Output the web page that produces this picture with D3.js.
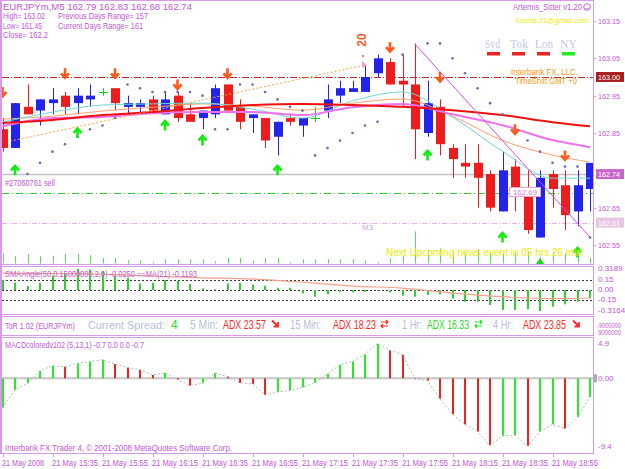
<!DOCTYPE html>
<html>
<head>
<meta charset="utf-8">
<script src="https://cdn.jsdelivr.net/npm/d3@7"></script>
<style>
body { margin: 0; background: #fff; overflow: hidden; }
svg { display: block; font-family: "Liberation Sans", Arial, sans-serif; }
</style>
</head>
<body>
<svg width="625" height="469"></svg>
<script>
const svg = d3.select('svg');

// ---- data (EURJPYm, M5, 21 May 2008 15:15 .. 19:10)
const tickBars = [0, 4, 8, 12, 16, 20, 24, 28, 32, 36, 40, 44];
const tickLabels = ['21 May 2008', '21 May 15:35', '21 May 15:55', '21 May 16:15', '21 May 16:35', '21 May 16:55',
  '21 May 17:15', '21 May 17:35', '21 May 17:55', '21 May 18:15', '21 May 18:35', '21 May 18:55'];

const open  = [162.86, 162.81, 162.92, 162.91, 162.93, 162.95, 162.93, 162.94, 162.96, 162.97, 162.92, 162.92,
  162.94, 162.90, 162.95, 162.90, 162.89, 162.90, 162.98, 162.92, 162.89, 162.89, 162.84, 162.89,
  162.87, 162.89, 162.91, 162.95, 162.96, 162.96, 163.01, 163.04, 162.99, 162.98, 162.85, 162.92,
  162.81, 162.77, 162.77, 162.74, 162.64, 162.76, 162.69, 162.57, 162.74, 162.71, 162.64, 162.70];
const high  = [162.89, 162.93, 162.98, 162.94, 162.97, 162.96, 162.97, 162.98, 162.97, 162.97, 162.95, 162.94,
  162.95, 162.96, 162.96, 162.93, 162.91, 162.98, 162.98, 162.94, 162.90, 162.89, 162.88, 162.90,
  162.89, 162.92, 162.98, 162.99, 162.99, 163.03, 163.06, 163.05, 163.06, 163.09, 162.99, 162.94,
  162.82, 162.82, 162.82, 162.75, 162.80, 162.78, 162.75, 162.75, 162.75, 162.75, 162.75, 162.77];
const low   = [162.80, 162.81, 162.90, 162.87, 162.90, 162.90, 162.90, 162.92, 162.95, 162.91, 162.90, 162.90,
  162.90, 162.90, 162.88, 162.88, 162.86, 162.89, 162.91, 162.86, 162.85, 162.81, 162.79, 162.87,
  162.84, 162.88, 162.89, 162.93, 162.96, 162.96, 163.00, 162.98, 162.92, 162.78, 162.84, 162.79,
  162.73, 162.73, 162.65, 162.64, 162.64, 162.64, 162.58, 162.57, 162.65, 162.59, 162.60, 162.64];
const close = [162.81, 162.93, 162.90, 162.94, 162.94, 162.92, 162.95, 162.95, 162.96, 162.93, 162.93, 162.93,
  162.91, 162.94, 162.89, 162.88, 162.91, 162.97, 162.91, 162.88, 162.90, 162.83, 162.88, 162.88,
  162.89, 162.89, 162.94, 162.97, 162.97, 163.00, 163.05, 162.98, 162.98, 162.86, 162.93, 162.82,
  162.78, 162.76, 162.73, 162.65, 162.75, 162.70, 162.59, 162.73, 162.70, 162.63, 162.71, 162.77];
const volume = [60, 46, 56, 44, 46, 56, 56, 50, 34, 34, 20, 20, 10, 26, 26, 26, 26, 14, 34, 34, 16, 34, 34, 10,
  26, 26, 26, 26, 26, 20, 10, 30, 46, 192, 80, 90, 70, 60, 86, 70, 60, 66, 70, 40, 66, 60, 70, 36];
const sar = [null, null, 162.74, 162.77, 162.80, 162.82, 162.84, 162.86, 162.87, 162.89, 162.98, 162.97,
  162.96, 162.96, 162.96, 162.96, 162.95, 162.86, 162.86, 162.98, 162.98, 162.96, 162.94, 162.92,
  162.91, 162.79, 162.81, 162.83, 162.85, 162.87, 162.88, null, 163.06, null, 163.09, 163.09,
  163.05, 163.01, 162.97, 162.93, 162.90, 162.86, 162.83, 162.80, 162.77, 162.76, 162.76, 162.57];
const downArrows = [[0, 162.96], [5, 163.01], [9, 163.01], [14, 162.98], [18, 163.01], [31, 163.08], [35, 163.00], [41, 162.86], [45, 162.79]];
const upArrows = [[1, 162.75], [6, 162.85], [13, 162.87], [16, 162.83], [22, 162.75], [34, 162.79], [40, 162.57], [46, 162.53]];

const maBars    = [0, 4, 8, 12, 16, 20, 24, 28, 32, 36, 40, 44, 47];
const maRed     = [162.877, 162.885, 162.898, 162.906, 162.917, 162.925, 162.928, 162.925, 162.920, 162.911, 162.898, 162.879, 162.868];
const maMagenta = [162.868, 162.890, 162.893, 162.903, 162.906, 162.906, 162.898, 162.919, 162.928, 162.900, 162.871, 162.831, 162.812];
const maSalmon  = [162.887, 162.895, 162.909, 162.919, 162.928, 162.922, 162.911, 162.930, 162.941, 162.895, 162.830, 162.791, 162.772];
const maCyan    = [162.879, 162.906, 162.925, 162.928, 162.930, 162.914, 162.890, 162.936, 162.960, 162.893, 162.801, 162.729, 162.729];
const trendUp   = [[0.6, 162.828], [29, 163.032]];
const trendDown = [[33, 163.088], [47, 162.571]];

const smaAngle = [0.15, 0.115, 0.06, 0.11, 0.22, 0.25, 0.3189, 0.31, 0.285, 0.22, 0.185, 0.10, 0.11, 0.15, 0.14, 0.09,
  0.025, 0.01, 0.10, 0.11, 0.085, 0.065, 0.035, 0.035, -0.05, -0.10, -0.065, -0.025, -0.035, -0.025, -0.015, -0.035,
  -0.085, -0.10, -0.075, -0.065, -0.125, -0.175, -0.175, -0.225, -0.30, -0.30, -0.29, -0.3164, -0.25, -0.215, -0.175, -0.125];
const smaMa = [0.255, 0.25, 0.24, 0.21, 0.186, 0.167, 0.12, 0.06, 0.03, -0.045, -0.10, -0.13, -0.12];

const macd = [-4.1, -1.6, -0.7, 1.05, 1.74, 1.6, 2.1, 2.3, 2.57, 1.97, 1.5, 1.2, 0.46, 0.73, -0.18, -1.0,
  -0.7, 0.73, 0.23, -0.64, -0.78, -2.3, -1.9, -1.7, -1.24, -0.64, 0.6, 1.88, 2.34, 3.35, 4.8, 3.9,
  3.26, -0.1, -0.32, -2.84, -5.0, -6.4, -7.4, -9.3, -8.0, -7.9, -9.4, -7.4, -6.4, -7.0, -5.4, -2.6];

const priceTicks = [163.15, 163.05, 162.95, 162.85, 162.65, 162.55];
const smaTicks = [0.3189, 0.15, 0.00, -0.15, -0.3164];
const macdTicks = [4.9, 0.00, -9.4];

// ---- colours
const violet = '#c258d6', frame = '#d79ae6';
const bull = '#2323ee', bear = '#ee1c1c', doji = '#11cc11';

// ---- scales
const x = d3.scaleLinear().domain([0, 47]).range([2.5, 590]);
const y = d3.scaleLinear().domain([162.55, 163.15]).range([245, 21]);
const yVol = d3.scaleLinear().domain([0, 192]).range([263.5, 231.5]);
const ySma = d3.scaleLinear().domain([-0.3164, 0.3189]).range([311, 269]);
const yMacd = d3.scaleLinear().domain([-9.4, 4.9]).range([446, 343]);
const px = i => Math.round(x(i)) + 0.5;

function txt(g, tx, ty, s, o = {}) {
  const t = g.append('text').attr('x', tx).attr('y', ty).text(s)
    .attr('font-size', o.size || 9).attr('fill', o.fill || violet);
  if (o.len) t.attr('textLength', o.len).attr('lengthAdjust', 'spacingAndGlyphs');
  if (o.anchor) t.attr('text-anchor', o.anchor);
  if (o.family) t.attr('font-family', o.family);
  if (o.weight) t.attr('font-weight', o.weight);
  return t;
}

// panel frames
const panels = [[0, 264], [266, 314], [316, 335], [337, 453]];
panels.forEach(([t, b]) => {
  svg.append('rect').attr('x', 1.5).attr('y', t + 0.5).attr('width', 592).attr('height', b - t)
    .attr('fill', '#fff').attr('stroke', frame);
});
svg.append('line').attr('x1', 1).attr('x2', 1).attr('y1', 0).attr('y2', 454).attr('stroke', frame).attr('stroke-width', 2);

const defs = svg.append('defs');
defs.append('clipPath').attr('id', 'cm').append('rect').attr('x', 2).attr('y', 1).attr('width', 591).attr('height', 263);
const main = svg.append('g').attr('clip-path', 'url(#cm)');

// horizontal levels
function hline(p, col, dash, w) {
  main.append('line').attr('x1', 2).attr('x2', 593).attr('y1', Math.round(y(p)) + 0.5).attr('y2', Math.round(y(p)) + 0.5)
    .attr('stroke', col).attr('stroke-width', w || 1).attr('stroke-dasharray', dash || null);
}
hline(162.74, '#c4c4c4', null, 1.5);
hline(163.00, '#c52a2a', '7,2,1,2');
hline(162.69, '#33cc33', '7,3,1,3');
hline(162.61, '#eab0e4', '5,2,1,2');

// volumes
volume.forEach((v, i) => {
  main.append('line').attr('x1', px(i)).attr('x2', px(i)).attr('y1', yVol(0)).attr('y2', yVol(v))
    .attr('stroke', '#3fd83f').attr('opacity', 0.85);
});

// candles
open.forEach((o, i) => {
  const c = close[i];
  const col = c > o ? bull : c < o ? bear : doji;
  main.append('line').attr('x1', px(i)).attr('x2', px(i)).attr('y1', y(high[i])).attr('y2', y(low[i])).attr('stroke', col);
  if (c === o) {
    main.append('line').attr('x1', px(i) - 4.5).attr('x2', px(i) + 4.5).attr('y1', Math.round(y(o)) + 0.5).attr('y2', Math.round(y(o)) + 0.5).attr('stroke', col);
  } else {
    const top = y(Math.max(o, c)), bot = y(Math.min(o, c));
    main.append('rect').attr('x', Math.round(x(i)) - 4).attr('width', 9).attr('y', top).attr('height', Math.max(1, bot - top)).attr('fill', col);
  }
});

// moving averages
const maLine = d3.line().x((d, k) => x(maBars[k])).curve(d3.curveMonotoneX);
[[maSalmon, '#ffa070', 1], [maCyan, '#6fd8d0', 1], [maMagenta, '#ee72ee', 2], [maRed, '#ee1111', 2]].forEach(([arr, col, w]) => {
  main.append('path').attr('d', maLine.y(d => y(d))(arr)).attr('fill', 'none').attr('stroke', col).attr('stroke-width', w);
});

// trend lines
main.append('line').attr('x1', x(trendUp[0][0])).attr('y1', y(trendUp[0][1])).attr('x2', x(trendUp[1][0])).attr('y2', y(trendUp[1][1]))
  .attr('stroke', '#ffa640').attr('stroke-dasharray', '2,2');
main.append('path').attr('d', `M${x(trendUp[1][0]) - 3},${y(trendUp[1][1]) - 4} l5,4 l-5,3 z`).attr('fill', '#f4a0c8');
main.append('line').attr('x1', x(trendDown[0][0])).attr('y1', y(trendDown[0][1])).attr('x2', x(trendDown[1][0])).attr('y2', y(trendDown[1][1]))
  .attr('stroke', '#e44ee4');

// parabolic SAR
sar.forEach((s, i) => {
  if (s === null) return;
  main.append('circle').attr('cx', x(i)).attr('cy', y(s)).attr('r', 1.3).attr('fill', '#6c6caa');
});

// signal arrows
function arrow(cx, cy, s, col) {
  main.append('path')
    .attr('d', `M${cx},${cy - 5 * s} L${cx},${cy + 4 * s} M${cx - 4},${cy} L${cx},${cy + 4.5 * s} L${cx + 4},${cy}`)
    .attr('fill', 'none').attr('stroke', col).attr('stroke-width', 2.6);
}
downArrows.forEach(([b, p]) => arrow(x(b), y(p), 1, '#ff5a1e'));
upArrows.forEach(([b, p]) => arrow(x(b), y(p), -1, '#10ee10'));
main.append('path').attr('d', `M${x(43) - 4},264 L${x(43)},258 L${x(43) + 4},264 z`).attr('fill', '#10dd10');

// texts on the main chart
txt(main, 3, 9.5, 'EURJPYm,M5  162.79 162.83 162.68 162.74', { len: 189 });
txt(main, 3, 18.5, 'High= 163.02', { len: 42 });
txt(main, 58, 18.5, 'Previous Days Range= 157', { len: 90 });
txt(main, 3, 28.5, 'Low= 161.45', { len: 39 });
txt(main, 58, 28.5, 'Current Days Range= 161', { len: 85 });
txt(main, 3, 37.5, 'Close= 162.2', { len: 45 });

txt(main, 513, 10, 'Artemis_Sitter v1.20', { len: 69 });
main.append('circle').attr('cx', 587).attr('cy', 7).attr('r', 3.3).attr('fill', 'none').attr('stroke', violet).attr('stroke-width', 0.9);
main.append('path').attr('d', 'M585,8 Q587,10 589,8').attr('fill', 'none').attr('stroke', violet).attr('stroke-width', 0.8);
txt(main, 515, 22.5, 'Yannis.21@gmail.com', { size: 8, fill: '#eeee00', len: 73 });

[['Syd', 485, 15], ['Tok', 510, 18], ['Lon', 535, 18], ['NY', 560, 17]].forEach(([s, sx, w], k) => {
  txt(main, sx, 47.5, s, { size: 13, family: 'Liberation Serif', fill: '#c3cadf', len: w });
  main.append('rect').attr('x', sx + 2).attr('y', 52).attr('width', 13).attr('height', 3.5).attr('fill', k === 3 ? '#22ee22' : '#ee2222');
});
txt(main, 511, 75, 'Interbank FX, LLC.', { fill: '#ff9a10', len: 67 });
txt(main, 515, 83.5, 'TimeShift GMT +0', { fill: '#ff9a10', len: 62 });

txt(main, 0, 0, '20', { size: 12, weight: 'bold', fill: '#ff5a1e', anchor: 'middle' })
  .attr('transform', 'translate(366,40) rotate(-90)');
main.append('circle').attr('cx', 363).attr('cy', 56).attr('r', 1).attr('fill', '#ff5a1e');

txt(main, 5, 186, '#27060761 sell', { len: 50 });
main.append('rect').attr('x', 509.5).attr('y', 187.5).attr('width', 31).attr('height', 9).attr('fill', '#fff').attr('stroke', '#f2a6d6');
txt(main, 525, 195, '162.69', { size: 8, fill: '#e87cc8', anchor: 'middle', len: 24 });
txt(main, 362, 229.5, 'M3', { size: 8, fill: '#c9a6da' });
txt(main, 386, 256, 'Next Upcoming news event in 05 hrs 26 min', { size: 10.5, fill: '#eeee00', len: 196 });

// price axis
priceTicks.forEach(p => {
  svg.append('line').attr('x1', 593).attr('x2', 596).attr('y1', Math.round(y(p)) + 0.5).attr('y2', Math.round(y(p)) + 0.5).attr('stroke', frame);
  txt(svg, 598, y(p) + 3, p.toFixed(2), { size: 8, len: 22 });
});
function priceBox(p, fill) {
  svg.append('rect').attr('x', 596).attr('y', y(p) - 5).attr('width', 28).attr('height', 10).attr('fill', fill);
  txt(svg, 598, y(p) + 3, p.toFixed(2), { size: 8, fill: '#fff', len: 22 });
}
priceBox(163.00, '#a82020');
priceBox(162.74, '#c865cc');
priceBox(162.61, '#e6c6e2');

// ---- SMAAngle panel
const sma = svg.append('g');
[0.15, 0, -0.15].forEach(v => {
  sma.append('line').attr('x1', 2).attr('x2', 593).attr('y1', Math.round(ySma(v)) + 0.5).attr('y2', Math.round(ySma(v)) + 0.5)
    .attr('stroke', '#333').attr('stroke-dasharray', '2,2');
});
smaAngle.forEach((v, i) => {
  sma.append('rect').attr('x', Math.round(x(i)) - 1).attr('width', 2)
    .attr('y', Math.min(ySma(0), ySma(v))).attr('height', Math.abs(ySma(v) - ySma(0))).attr('fill', '#2ed12e');
});
sma.append('path').attr('d', d3.line().x((d, k) => x(maBars[k])).y(d => ySma(d)).curve(d3.curveMonotoneX)(smaMa))
  .attr('fill', 'none').attr('stroke', '#f7a08c').attr('stroke-width', 1.2);
txt(sma, 5, 276.5, 'SMAAngle(50,0.15000000,2,0) -0.0250  ==MA(21) -0.1193', { len: 192 });
smaTicks.forEach(v => txt(svg, 598, ySma(v) + 2, v.toFixed(Math.abs(v) > 0.2 ? 4 : 2), { size: 8 }));

// ---- ToR panel
const tor = svg.append('g');
const light = '#b6bedb', adxRed = '#ff2828', adxGreen = '#2ed82e';
function trendDn(ax, col) {   // small "south-east" arrow
  tor.append('path').attr('d', `M${ax},320.5 L${ax + 6},326.5 M${ax + 1.5},326.5 L${ax + 6},326.5 L${ax + 6},322`)
    .attr('fill', 'none').attr('stroke', col).attr('stroke-width', 1.8);
}
function trendFlat(ax, col) { // small pair of opposite arrows
  tor.append('path').attr('d', `M${ax},322 L${ax + 7},322 M${ax + 5},320 L${ax + 7},322 L${ax + 5},324 M${ax + 7},326 L${ax},326 M${ax + 2},324 L${ax},326 L${ax + 2},328`)
    .attr('fill', 'none').attr('stroke', col).attr('stroke-width', 1.2);
}
txt(tor, 5, 328.5, 'ToR 1.02 (EURJPYm)', { len: 70 });
txt(tor, 88, 329, 'Current Spread:', { size: 11, fill: light, len: 77 });
txt(tor, 171, 329, '4', { size: 12, fill: adxGreen });
txt(tor, 190, 329, '5 Min:', { size: 12, fill: light, len: 28 });
txt(tor, 223, 329, 'ADX 23.57', { size: 12, fill: adxRed, len: 43 });
trendDn(272, adxRed);
txt(tor, 290, 329, '15 Min:', { size: 12, fill: light, len: 31 });
txt(tor, 333, 329, 'ADX 18.23', { size: 12, fill: adxRed, len: 43 });
trendFlat(381, adxRed);
txt(tor, 402, 329, '1 Hr:', { size: 12, fill: light, len: 20 });
txt(tor, 427, 329, 'ADX 16.33', { size: 12, fill: adxGreen, len: 42 });
trendFlat(475, adxGreen);
txt(tor, 493, 329, '4 Hr:', { size: 12, fill: light, len: 20 });
txt(tor, 523, 329, 'ADX 23.85', { size: 12, fill: adxRed, len: 43 });
trendDn(573, adxRed);
txt(svg, 597, 327.5, '-9000000', { size: 6.5, len: 24 });
txt(svg, 598, 335, '9000000', { size: 6.5, len: 23 });

// ---- MACD panel
const mg = svg.append('g');
mg.append('line').attr('x1', 2).attr('x2', 593).attr('y1', yMacd(0)).attr('y2', yMacd(0)).attr('stroke', '#c6c6c6').attr('stroke-width', 2);
macd.forEach((v, i) => {
  const col = i === 0 || v >= macd[i - 1] ? '#22ee22' : '#ee2222';
  mg.append('rect').attr('x', Math.round(x(i)) - 1).attr('width', 2)
    .attr('y', Math.min(yMacd(0), yMacd(v))).attr('height', Math.abs(yMacd(v) - yMacd(0))).attr('fill', col);
});
mg.append('path').attr('d', d3.line().x((d, i) => x(i)).y(d => yMacd(d))(macd))
  .attr('fill', 'none').attr('stroke', '#b8b8b8').attr('stroke-dasharray', '2,2');
txt(mg, 5, 347.5, 'MACDcoloredv102 (5,13,1) -0.7 0.0 0.0 -0.7', { len: 139 });
txt(mg, 5, 451, 'Interbank FX Trader 4, \u00A9 2001-2008 MetaQuotes Software Corp.', { len: 227 });
svg.append('rect').attr('x', 594).attr('y', yMacd(0) - 4).attr('width', 3).attr('height', 8).attr('fill', '#aaa');
macdTicks.forEach(v => txt(svg, 598, yMacd(v) + 3, v === 0 ? '0.00' : String(v), { size: 8 }));

// ---- time axis
tickBars.forEach((b, k) => {
  svg.append('line').attr('x1', px(b)).attr('x2', px(b)).attr('y1', 453).attr('y2', 457).attr('stroke', frame);
  txt(svg, x(b) - 0.5, 465.5, tickLabels[k], { size: 8.5, len: k === 0 ? 42 : 46 });
});
</script>
</body>
</html>
